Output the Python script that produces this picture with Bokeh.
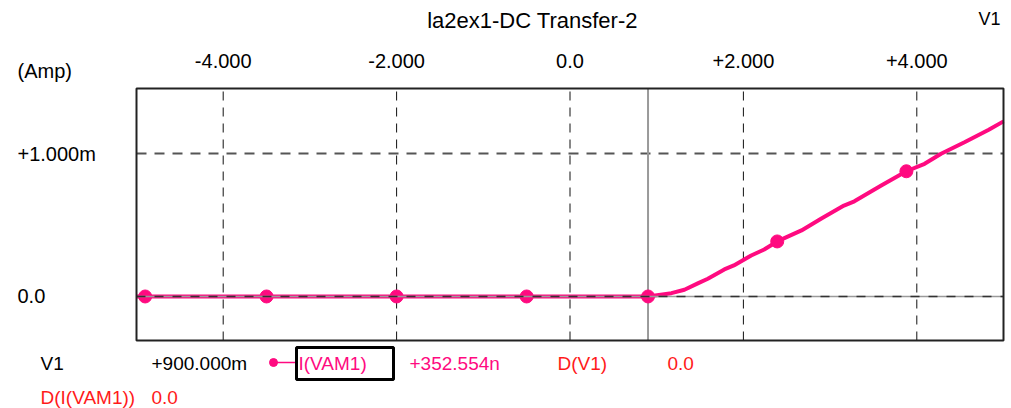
from bokeh.plotting import figure
from bokeh.models import Range1d
from bokeh.core.properties import value
from bokeh.embed import file_html
from bokeh.resources import INLINE

# ---------------- data ----------------
title_text = "la2ex1-DC Transfer-2"
x_ticks = [-4.0, -2.0, 0.0, 2.0, 4.0]
x_tick_labels = ["-4.000", "-2.000", "0.0", "+2.000", "+4.000"]
y_ticks = [0.0, 1.0e-3]
y_tick_labels = ["0.0", "+1.000m"]

v1 = [-5.0, 0.9, 1.17, 1.32, 1.48, 1.59, 1.78, 1.89, 2.09, 2.24, 2.39, 2.67,
      2.90, 3.16, 3.28, 3.59, 3.88, 4.09, 4.28, 4.55, 4.83, 5.0]
i_vam1_mA = [0.0, 0.0, 0.023, 0.047, 0.093, 0.124, 0.189, 0.217, 0.287, 0.329,
             0.385, 0.462, 0.545, 0.636, 0.666, 0.776, 0.876, 0.928, 0.998,
             1.079, 1.166, 1.225]
marker_v = [-4.9, -3.5, -2.0, -0.5, 0.9, 2.39, 3.88]
marker_i_mA = [0.0, 0.0, 0.0, 0.0, 0.0, 0.385, 0.876]
cursor_v = 0.9

i_vam1 = [v * 1e-3 for v in i_vam1_mA]
marker_i = [v * 1e-3 for v in marker_i_mA]

# ---------------- styling / layout ----------------
PINK = "#ff0a80"
RED = "#ff1a1a"
FONT = "Liberation Sans"

XMIN, XMAX = -5.0, 5.0
YMIN, YMAX = -0.308e-3, 1.455e-3
FL, FR, FT, FB = 136, 1003, 88, 340   # inner plot frame edges in page pixels

W, H = 1010, 408

def sx(px):
    return XMIN + (px - FL) * (XMAX - XMIN) / (FR - FL)

def sy(py):
    return YMAX - (py - FT) * (YMAX - YMIN) / (FB - FT)

p = figure(width=W, height=H, output_backend="svg", toolbar_location=None,
           x_range=Range1d(sx(0), sx(W)), y_range=Range1d(sy(H), sy(0)),
           x_axis_location=None, y_axis_location=None,
           min_border=0)
p.outline_line_color = None
p.background_fill_color = "white"
p.border_fill_color = "white"
for g in p.grid:
    g.visible = False

# grid lines
n = len(x_ticks)
p.segment(x0=x_ticks, y0=[YMIN] * n, x1=x_ticks, y1=[YMAX] * n,
          line_color="#111111", line_width=1, line_dash="9 7")
p.segment(x0=[XMIN], y0=[y_ticks[1]], x1=[XMAX], y1=[y_ticks[1]],
          line_color="#555555", line_width=2, line_dash="10 8")
p.segment(x0=[cursor_v], y0=[YMIN], x1=[cursor_v], y1=[YMAX],
          line_color="#9a9a9a", line_width=2)

# curve
p.line(v1, i_vam1, line_color=PINK, line_width=4)
p.scatter(marker_v, marker_i, size=13, color=PINK)

# zero line drawn over the trace
p.segment(x0=[XMIN], y0=[y_ticks[0]], x1=[XMAX], y1=[y_ticks[0]],
          line_color="#9a9a9a", line_width=1.5)
p.segment(x0=[XMIN], y0=[y_ticks[0]], x1=[XMAX], y1=[y_ticks[0]],
          line_color="#333333", line_width=1.5, line_dash="9 9")

# inner frame
p.quad(left=[XMIN], right=[XMAX], bottom=[YMIN], top=[YMAX],
       fill_color=None, line_color="#222222", line_width=2)

# tick labels
p.text(x=x_ticks, y=[sy(60)] * n, text=x_tick_labels, text_align="center",
       text_baseline="middle", text_font=value(FONT), text_font_size=value("20px"),
       text_color="black")
p.text(x=[sx(17)] * len(y_ticks), y=y_ticks, text=y_tick_labels, text_align="left",
       text_baseline="middle", text_font=value(FONT), text_font_size=value("20px"),
       text_color="black")

def lab(text, px, py, color="black", size="19px", align="left"):
    p.text(x=[sx(px)], y=[sy(py)], text=[text], text_align=align,
           text_baseline="middle", text_font=value(FONT),
           text_font_size=value(size), text_color=color)

lab(title_text, 532, 20, size="22px", align="center")
lab("V1", 978, 18, size="18px")
lab("(Amp)", 17, 70, size="20px")

# cursor read-out
lab("V1", 40, 363)
lab("+900.000m", 151, 363)
lab("I(VAM1)", 298, 363, color=PINK)
lab("+352.554n", 409, 363, color=PINK)
lab("D(V1)", 557, 363, color=RED)
lab("0.0", 667, 363, color=RED)
lab("D(I(VAM1))", 40, 397, color=RED)
lab("0.0", 151, 397, color=RED)

# legend glyph and box
p.segment(x0=[sx(273)], y0=[sy(362)], x1=[sx(296)], y1=[sy(362)],
          line_color=PINK, line_width=1.5)
p.scatter(x=[sx(273)], y=[sy(362)], size=8, color=PINK)
p.quad(left=[sx(296)], right=[sx(393)], top=[sy(347)], bottom=[sy(379)],
       fill_color=None, line_color="black", line_width=3)

html = file_html(p, INLINE)
open("out.html", "w").write(html)
